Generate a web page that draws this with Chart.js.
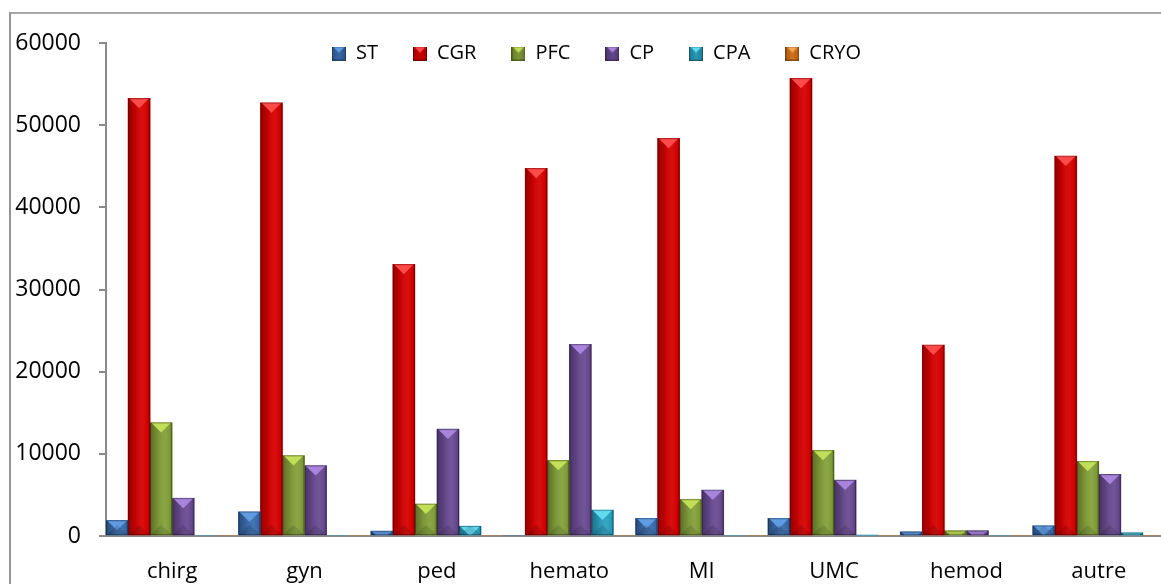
<!DOCTYPE html>
<html><head><meta charset="utf-8">
<script src="https://cdn.jsdelivr.net/npm/chart.js@4/dist/chart.umd.min.js"></script>
<style>
html,body{margin:0;padding:0;background:#fff;overflow:hidden;width:1161px;height:584px;position:relative;}
#frame{position:absolute;left:9px;top:12px;width:1300px;height:700px;border-left:2px solid #949494;border-top:2px solid #a8a8a8;}
#wrap{position:absolute;left:0;top:0;width:1170px;height:600px;}
</style></head><body>
<div id="frame"></div>
<div id="wrap"><canvas id="c" width="1170" height="600"></canvas></div>
<script>
const categories = ['chirg', 'gyn', 'ped', 'hemato', 'MI', 'UMC', 'hemod', 'autre'];
const seriesNames = ['ST', 'CGR', 'PFC', 'CP', 'CPA', 'CRYO'];
const ST   = [1900, 2950, 600, 0, 2150, 2150, 520, 1250];
const CGR  = [53270, 52730, 33060, 44750, 48400, 55700, 23250, 46250];
const PFC  = [13800, 9800, 3900, 9200, 4470, 10430, 650, 9100];
const CP   = [4600, 8560, 13000, 23330, 5600, 6800, 650, 7500];
const CPA  = [0, 0, 1200, 3160, 0, 100, 0, 400];
const CRYO = [0, 0, 0, 0, 0, 0, 0, 0];
const yTicks = [0, 10000, 20000, 30000, 40000, 50000, 60000];

const seriesValues = [ST, CGR, PFC, CP, CPA, CRYO];
const baseColors  = ['#3a6cae', '#d80000', '#84a13a', '#6a4b93', '#2aa2c2', '#e0781e'];
const lightColors = ['#5f9de2', '#ff4a4a', '#c2df58', '#a884dc', '#62daf2', '#f7a552'];

Chart.defaults.font.family = "'Open Sans', sans-serif";
Chart.defaults.font.size = 22;
Chart.defaults.color = '#000';

function legendSwatch(i) {
  const s = 14;
  const c = document.createElement('canvas');
  c.width = s; c.height = s;
  const x = c.getContext('2d');
  x.fillStyle = baseColors[i];
  x.fillRect(0, 0, s, s);
  const g = x.createLinearGradient(0, 0, s, 0);
  g.addColorStop(0, 'rgba(0,0,0,0.25)');
  g.addColorStop(0.5, 'rgba(0,0,0,0.05)');
  g.addColorStop(1, 'rgba(0,0,0,0.25)');
  x.fillStyle = g; x.fillRect(0, 0, s, s);
  x.fillStyle = lightColors[i];
  x.beginPath(); x.moveTo(1, 0); x.lineTo(s - 1, 0); x.lineTo(s / 2, s * 0.45); x.closePath(); x.fill();
  x.strokeStyle = 'rgba(0,0,0,0.3)'; x.lineWidth = 1; x.strokeRect(0.5, 0.5, s - 1, s - 1);
  return c;
}

const bevelPlugin = {
  id: 'bevel',
  afterDatasetsDraw(chart) {
    const ctx = chart.ctx;
    chart.data.datasets.forEach((ds, di) => {
      const meta = chart.getDatasetMeta(di);
      meta.data.forEach(bar => {
        const p = bar.getProps(['x', 'y', 'base', 'width'], true);
        const left = p.x - p.width / 2, right = p.x + p.width / 2;
        const top = Math.min(p.y, p.base), bottom = Math.max(p.y, p.base);
        const h = bottom - top, w = right - left;
        if (h < 0.5) return;
        ctx.save();
        ctx.beginPath(); ctx.rect(left, top, w, h); ctx.clip();
        const g = ctx.createLinearGradient(left, 0, right, 0);
        g.addColorStop(0, 'rgba(0,0,0,0.32)');
        g.addColorStop(0.3, 'rgba(0,0,0,0.12)');
        g.addColorStop(0.7, 'rgba(255,255,255,0.05)');
        g.addColorStop(0.9, 'rgba(0,0,0,0.05)');
        g.addColorStop(1, 'rgba(0,0,0,0.3)');
        ctx.fillStyle = g;
        ctx.fillRect(left, top, w, h);
        const bh = w * 0.45;
        ctx.fillStyle = lightColors[di];
        ctx.beginPath();
        ctx.moveTo(left + 1, top); ctx.lineTo(right - 1, top); ctx.lineTo(p.x, top + bh); ctx.closePath();
        ctx.fill();
        ctx.fillStyle = 'rgba(0,0,0,0.12)';
        ctx.beginPath();
        ctx.moveTo(left, bottom); ctx.lineTo(right, bottom); ctx.lineTo(p.x, bottom - bh); ctx.closePath();
        ctx.fill();
        ctx.restore();
        ctx.save();
        ctx.strokeStyle = 'rgba(0,0,0,0.28)';
        ctx.lineWidth = 1;
        ctx.strokeRect(left + 0.5, top + 0.5, w - 1, Math.max(h - 1, 0));
        ctx.restore();
      });
    });
  }
};

const LEGEND_START_X = 332;
const LEGEND_CENTER_Y = 53.5;
const legendPosPlugin = {
  id: 'legendPos',
  beforeUpdate(chart) {
    if (chart.legend) chart.legend.isHorizontal = () => true;
  },
  beforeDraw(chart) {
    const lg = chart.legend;
    if (!lg || !lg.lineWidths || !lg.lineWidths.length) return;
    const pad = lg.options.labels.padding;
    const w = lg.width, hgt = lg.height;
    lg.left = LEGEND_START_X - pad;
    lg.right = lg.left + w;
    const itemH = 20;
    lg.top = LEGEND_CENTER_Y - pad - itemH / 2;
    lg.bottom = lg.top + hgt;
  }
};

new Chart(document.getElementById('c'), {
  type: 'bar',
  data: {
    labels: categories,
    datasets: seriesNames.map((name, i) => ({
      label: name,
      data: seriesValues[i],
      backgroundColor: baseColors[i],
      pointStyle: legendSwatch(i),
      borderWidth: 0,
      categoryPercentage: 1.0,
      barPercentage: 1.0
    }))
  },
  options: {
    responsive: false,
    devicePixelRatio: 1,
    animation: false,
    layout: { padding: { left: 0, top: 43, right: 5, bottom: 0 } },
    plugins: {
      tooltip: { enabled: false },
      legend: {
        position: 'chartArea',
        align: 'start',
        labels: {
          usePointStyle: true,
          pointStyleWidth: 14,
          boxWidth: 14,
          boxHeight: 14,
          padding: 35,
          color: '#000',
          font: { size: 20 }
        }
      }
    },
    scales: {
      x: {
        grid: { display: true, drawOnChartArea: false, drawTicks: false },
        border: { display: true, color: '#8a8a8a', width: 2 },
        ticks: { padding: 23, color: '#000', font: { size: 22 } },
        afterFit(s) { s.height = 64; }
      },
      y: {
        min: 0, max: 60000,
        afterBuildTicks(s) { s.ticks = yTicks.map(v => ({ value: v })); },
        ticks: { padding: 18, color: '#000', font: { size: 23 }, callback: v => String(v) },
        grid: { display: true, drawOnChartArea: false, drawTicks: true, tickLength: 7, color: '#8a8a8a', lineWidth: 2 },
        border: { display: true, color: '#8a8a8a', width: 2 },
        afterFit(s) { s.width = 106; }
      }
    }
  },
  plugins: [bevelPlugin, legendPosPlugin]
});
</script>
</body></html>
